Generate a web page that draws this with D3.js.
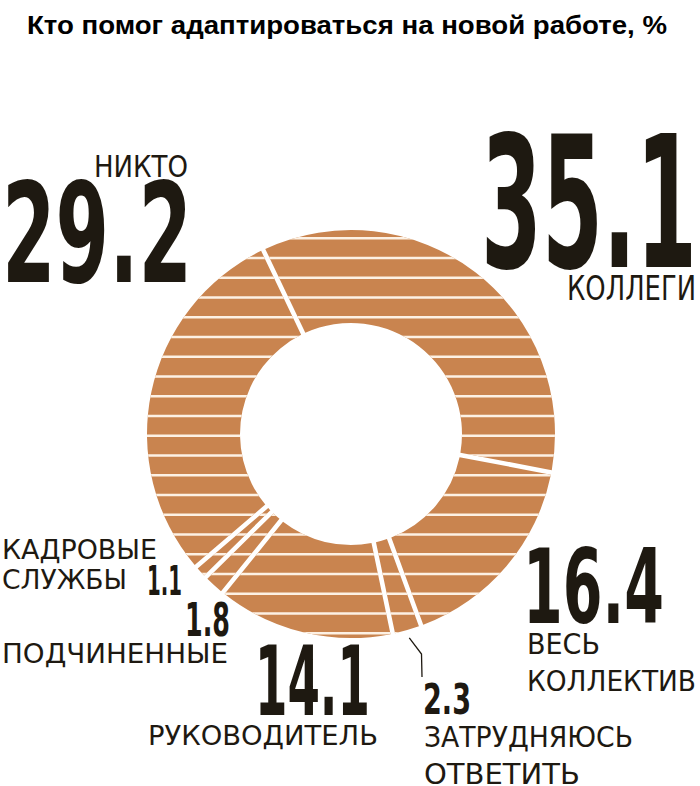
<!DOCTYPE html>
<html>
<head>
    <meta charset="utf-8">
    <title>Кто помог адаптироваться</title>
    <style>
        html, body { margin: 0; padding: 0; background: #fff; }
        svg { display: block; }
    </style>
</head>
<body>
    <svg id="chart" width="700" height="786"></svg>

    <script src="https://d3js.org/d3.v7.min.js"></script>
    <script>
        // data, clockwise from the top-left gap
        const categories = ["Коллеги", "Весь коллектив", "Затрудняюсь ответить", "Руководитель", "Подчиненные", "Кадровые службы", "Никто"];
        const values = [35.1, 16.4, 2.3, 14.1, 1.8, 1.1, 29.2];
        const labelLines = [
            ["КОЛЛЕГИ"],
            ["ВЕСЬ", "КОЛЛЕКТИВ"],
            ["ЗАТРУДНЯЮСЬ", "ОТВЕТИТЬ"],
            ["РУКОВОДИТЕЛЬ"],
            ["ПОДЧИНЕННЫЕ"],
            ["КАДРОВЫЕ", "СЛУЖБЫ"],
            ["НИКТО"]
        ];
        const title = "Кто помог адаптироваться на новой работе, %";

        // layout: x, baseline, cap height, width for every text box
        const numberBoxes = [
            { x: 481, y: 267, h: 132, w: 216 },
            { x: 523, y: 623, h: 75, w: 141 },
            { x: 423, y: 714, h: 31, w: 48 },
            { x: 255, y: 715, h: 69, w: 115 },
            { x: 185, y: 636, h: 33, w: 45 },
            { x: 147, y: 595, h: 30, w: 35 },
            { x: 2, y: 282, h: 100, w: 190 }
        ];
        const labelBoxes = [
            [{ x: 567, y: 300, h: 24, w: 129 }],
            [{ x: 527, y: 654, h: 20, w: 73 }, { x: 527, y: 691, h: 20.5, w: 169 }],
            [{ x: 424, y: 747, h: 20.5, w: 209 }, { x: 424, y: 784, h: 20.5, w: 156 }],
            [{ x: 148, y: 745, h: 19, w: 230 }],
            [{ x: 2, y: 663, h: 19.5, w: 226 }],
            [{ x: 2, y: 559, h: 19, w: 155 }, { x: 2, y: 589, h: 19, w: 125 }],
            [{ x: 94, y: 177, h: 21.5, w: 94 }]
        ];

        const cx = 351, cy = 434, outerR = 204, innerR = 111;
        const startDeg = -25.5;
        const fillColor = "#c9844f";
        const stripeColor = "#fdf1e4";
        const inkColor = "#1e1911";
        const numFont = "'Liberation Sans Narrow', 'DejaVu Sans Condensed', sans-serif";
        const capRatio = 0.72;

        const svg = d3.select("#chart");

        // title
        svg.append("text")
            .attr("x", 27)
            .attr("y", 34)
            .attr("font-family", "'Liberation Sans', Arial, sans-serif")
            .attr("font-weight", "bold")
            .attr("font-size", 25)
            .attr("textLength", 640)
            .attr("lengthAdjust", "spacingAndGlyphs")
            .attr("fill", "#000")
            .text(title);

        // donut
        const start = startDeg * Math.PI / 180;
        const pie = d3.pie().sort(null).value(d => d).startAngle(start).endAngle(start + 2 * Math.PI);
        const arcs = pie(values);

        const arc = d3.arc()
            .innerRadius(innerR)
            .outerRadius(outerR)
            .padAngle(0.046)
            .padRadius(100);

        const clip = svg.append("defs").append("clipPath").attr("id", "ring-clip");
        clip.selectAll("path")
            .data(arcs)
            .join("path")
            .attr("transform", `translate(${cx},${cy})`)
            .attr("d", arc);

        const ring = svg.append("g");
        ring.selectAll("path")
            .data(arcs)
            .join("path")
            .attr("transform", `translate(${cx},${cy})`)
            .attr("d", arc)
            .attr("fill", fillColor);

        // horizontal stripes over the ring
        const stripeStep = 19.75;
        const stripeY = d3.range(238.3 - stripeStep, cy + outerR + 2, stripeStep);
        svg.append("g")
            .attr("clip-path", "url(#ring-clip)")
            .selectAll("line")
            .data(stripeY)
            .join("line")
            .attr("x1", cx - outerR - 5)
            .attr("x2", cx + outerR + 5)
            .attr("y1", d => d)
            .attr("y2", d => d)
            .attr("stroke", stripeColor)
            .attr("stroke-width", 2.6);

        // leader line for the small "2.3" slice
        const small = arcs[2];
        const mid = (small.startAngle + small.endAngle) / 2;
        const lx = cx + Math.sin(mid) * (outerR + 8);
        const ly = cy - Math.cos(mid) * (outerR + 8);
        svg.append("path")
            .attr("d", d3.line()([[lx, ly], [421.5, 654], [422, 677]]))
            .attr("fill", "none")
            .attr("stroke", inkColor)
            .attr("stroke-width", 1.3);

        // big numbers
        const fmt = d3.format(".1f");
        svg.append("g")
            .selectAll("text")
            .data(values)
            .join("text")
            .attr("x", (d, i) => numberBoxes[i].x)
            .attr("y", (d, i) => numberBoxes[i].y)
            .attr("font-family", numFont)
            .attr("font-weight", "bold")
            .attr("font-size", (d, i) => numberBoxes[i].h / capRatio)
            .attr("textLength", (d, i) => numberBoxes[i].w)
            .attr("lengthAdjust", "spacingAndGlyphs")
            .attr("fill", inkColor)
            .text(d => fmt(d));

        // category labels
        const labelRows = [];
        labelLines.forEach((lines, i) => {
            lines.forEach((t, j) => labelRows.push({ text: t, box: labelBoxes[i][j], cat: categories[i] }));
        });
        svg.append("g")
            .selectAll("text")
            .data(labelRows)
            .join("text")
            .attr("x", d => d.box.x)
            .attr("y", d => d.box.y)
            .attr("font-family", numFont)
            .attr("font-weight", "normal")
            .attr("font-size", d => d.box.h / capRatio)
            .attr("textLength", d => d.box.w)
            .attr("lengthAdjust", "spacingAndGlyphs")
            .attr("fill", inkColor)
            .text(d => d.text);
    </script>
</body>
</html>
